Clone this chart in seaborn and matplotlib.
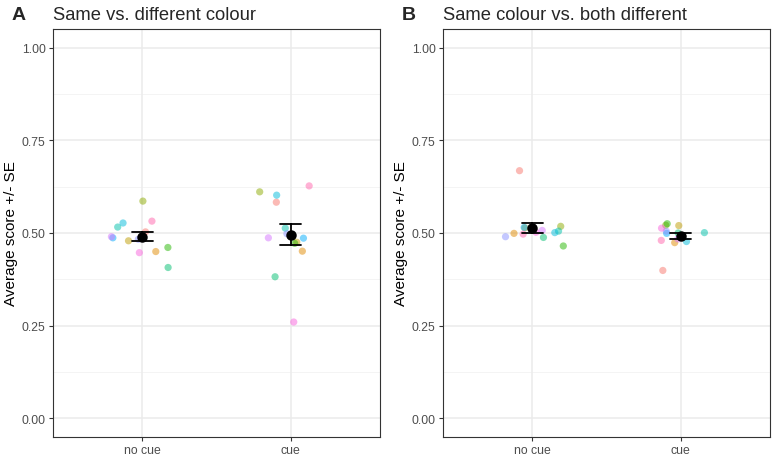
import numpy as np
import pandas as pd
import matplotlib
matplotlib.use("Agg")
import matplotlib.pyplot as plt
import seaborn as sns

# participants (one colour each, ggplot default hue palette)
participants = ["P%02d" % i for i in range(1, 14)]
conditions = ["no cue", "cue"]

# panel A: same vs. different colour
a_nocue = [0.503, 0.450, 0.479, 0.586, 0.461, 0.407, 0.516, 0.527, 0.487, 0.483, 0.490, 0.447, 0.532]
a_cue = [0.583, 0.451, 0.475, 0.611, 0.472, 0.382, 0.513, 0.602, 0.486, 0.498, 0.487, 0.260, 0.627]
# panel B: same colour vs. both different
b_nocue = [0.668, 0.499, 0.514, 0.518, 0.465, 0.488, 0.505, 0.501, 0.515, 0.490, 0.507, 0.502, 0.497]
b_cue = [0.399, 0.474, 0.520, 0.521, 0.525, 0.500, 0.501, 0.477, 0.499, 0.505, 0.484, 0.513, 0.480]

titles = ["Same vs. different colour", "Same colour vs. both different"]
tags = ["A", "B"]


def hue_pal(n, c=100, l=65):
    # HCL (polar Luv) -> sRGB, like scales::hue_pal()
    hues = np.deg2rad(np.linspace(15, 375, n + 1)[:-1])
    Xn, Yn, Zn = 95.047, 100.0, 108.883
    un = 4 * Xn / (Xn + 15 * Yn + 3 * Zn)
    vn = 9 * Yn / (Xn + 15 * Yn + 3 * Zn)
    Y = Yn * ((l + 16) / 116) ** 3
    out = []
    for h in hues:
        u = c * np.cos(h) / (13 * l) + un
        v = c * np.sin(h) / (13 * l) + vn
        X = Y * 9 * u / (4 * v)
        Z = Y * (12 - 3 * u - 20 * v) / (4 * v)
        M = np.array([[3.2404542, -1.5371385, -0.4985314],
                      [-0.9692660, 1.8760108, 0.0415560],
                      [0.0556434, -0.2040259, 1.0572252]])
        rgb = M @ np.array([X, Y, Z]) / 100
        rgb = np.where(rgb <= 0.0031308, 12.92 * rgb, 1.055 * np.clip(rgb, 0, None) ** (1 / 2.4) - 0.055)
        out.append(tuple(np.clip(rgb, 0, 1)))
    return out


pal = dict(zip(participants, hue_pal(len(participants))))

sns.set_theme(style="white")
plt.rcParams["font.family"] = ["Liberation Sans", "DejaVu Sans"]

fig = plt.figure(figsize=(7.78, 4.6), dpi=100)
axes = [fig.add_axes([53 / 778, 22 / 460, 327 / 778, 408 / 460]),
        fig.add_axes([443 / 778, 22 / 460, 327 / 778, 408 / 460])]

np.random.seed(3)
for i, (ax, nc, cu) in enumerate(zip(axes, [a_nocue, b_nocue], [a_cue, b_cue])):
    df = pd.DataFrame({
        "participant": participants * 2,
        "cond": ["no cue"] * len(nc) + ["cue"] * len(cu),
        "score": nc + cu,
    })
    # grid like theme_bw
    for y in [0.125, 0.375, 0.625, 0.875]:
        ax.axhline(y, color="#F2F2F2", lw=0.6, zorder=0)
    for y in [0, 0.25, 0.5, 0.75, 1.0]:
        ax.axhline(y, color="#EBEBEB", lw=1.1, zorder=0)
    for x in [0, 1]:
        ax.axvline(x, color="#EBEBEB", lw=1.1, zorder=0)

    sns.stripplot(data=df, x="cond", y="score", hue="participant", order=conditions,
                  palette=pal, jitter=0.22, size=5.2, alpha=0.5, linewidth=0,
                  legend=False, ax=ax, zorder=2)
    sns.pointplot(data=df, x="cond", y="score", order=conditions, errorbar="se",
                  color="black", capsize=0.14, linestyle="none", markersize=5.5,
                  err_kws={"linewidth": 1.3}, ax=ax, zorder=3)

    ax.set_xlim(-0.6, 1.6)
    ax.set_ylim(-0.05, 1.05)
    ax.set_yticks([0, 0.25, 0.5, 0.75, 1.0])
    ax.set_yticklabels(["0.00", "0.25", "0.50", "0.75", "1.00"])
    ax.set_xlabel("")
    ax.set_ylabel("Average score +/- SE", fontsize=11, color="black", labelpad=3)
    ax.tick_params(axis="both", colors="#333333", labelcolor="#4D4D4D", labelsize=8.8,
                   length=2.75, width=0.8, pad=2.5, direction="out", left=True, bottom=True)
    for s in ax.spines.values():
        s.set_color("#333333")
        s.set_linewidth(0.8)

    x0 = 53 if i == 0 else 443
    fig.text((x0 - 41) / 778, 1 - 16 / 460, tags[i], fontsize=14, fontweight="bold", va="center")
    fig.text(x0 / 778, 1 - 16 / 460, titles[i], fontsize=13.2, va="center")

fig.savefig("out.png", dpi=100, facecolor="white")
